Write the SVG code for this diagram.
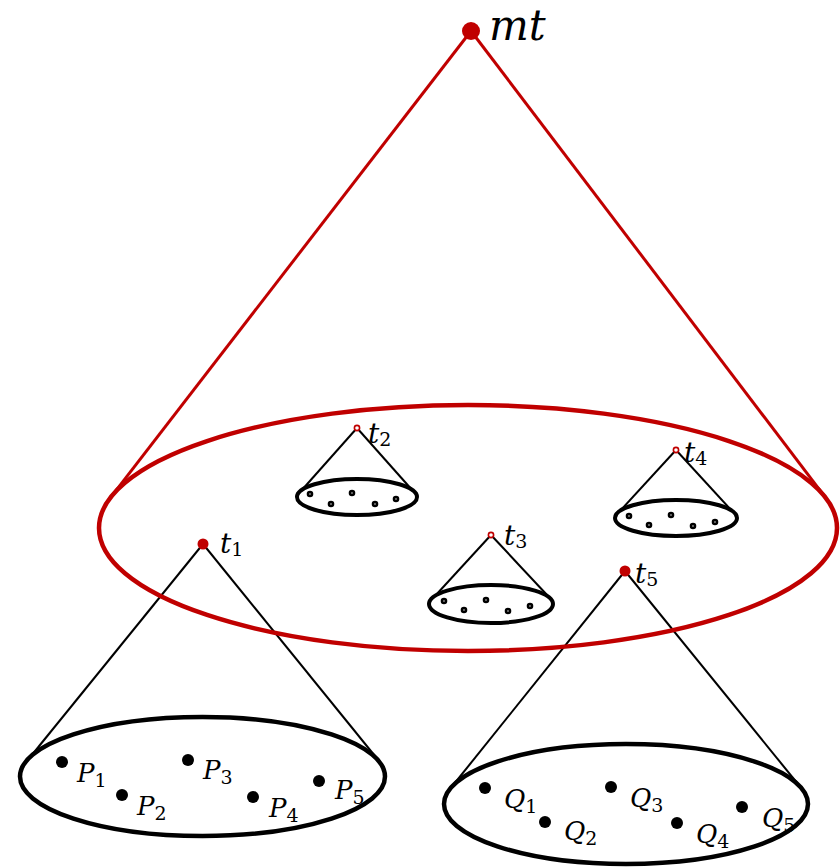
<svg xmlns="http://www.w3.org/2000/svg" width="840" height="867" viewBox="0 0 840 867">
<style>
.red{stroke:#c00000;fill:none}
.blk{stroke:#000;fill:none}
.lbl{font-family:"DejaVu Serif",serif;font-style:italic;fill:#000}
.sub{font-style:normal;font-size:19px}
.rd{fill:#c00000}
.pt{fill:#000}
.ring{fill:#fff;stroke:#000;stroke-width:2.6}
</style>
<rect width="840" height="867" fill="#fff"/>
<g id="connectors">
<line class="red" x1="471" y1="31" x2="110.5" y2="497.6" stroke-width="3"/>
<line class="red" x1="471" y1="31" x2="825.5" y2="497.6" stroke-width="3"/>
<line class="blk" x1="203" y1="544" x2="27" y2="761" stroke-width="2"/>
<line class="blk" x1="203" y1="544" x2="379" y2="761" stroke-width="2"/>
<line class="blk" x1="625" y1="571" x2="450" y2="789" stroke-width="2"/>
<line class="blk" x1="625" y1="571" x2="802" y2="789" stroke-width="2"/>
<line class="blk" x1="357" y1="428" x2="301" y2="491" stroke-width="2"/>
<line class="blk" x1="357" y1="428" x2="413" y2="491" stroke-width="2"/>
<line class="blk" x1="491" y1="535" x2="435" y2="596" stroke-width="2"/>
<line class="blk" x1="491" y1="535" x2="548" y2="596" stroke-width="2"/>
<line class="blk" x1="676" y1="450" x2="620" y2="511" stroke-width="2"/>
<line class="blk" x1="676" y1="450" x2="732" y2="511" stroke-width="2"/>
</g>
<g id="mt-region">
<ellipse class="red" cx="468" cy="528" rx="369" ry="123" stroke-width="4.5"/>
</g>
<g id="mt">
<circle class="rd" cx="471" cy="31" r="9"/>
<text class="lbl" x="489" y="40" font-size="42">mt</text>
</g>
<g id="t1">
<ellipse class="blk" cx="202.5" cy="776.5" rx="182.5" ry="59.5" stroke-width="4.5"/>
<circle class="rd" cx="203" cy="544" r="5.5"/>
<text class="lbl" x="220" y="553" font-size="28">t<tspan class="sub" dy="3">1</tspan></text>
<circle class="pt" cx="62" cy="762" r="6"/>
<circle class="pt" cx="122" cy="795" r="6"/>
<circle class="pt" cx="188" cy="760" r="6"/>
<circle class="pt" cx="253" cy="797" r="6"/>
<circle class="pt" cx="319" cy="781" r="6"/>
<text class="lbl" x="77" y="782" font-size="26">P<tspan class="sub" dy="5">1</tspan></text>
<text class="lbl" x="137" y="815" font-size="26">P<tspan class="sub" dy="5">2</tspan></text>
<text class="lbl" x="203" y="779" font-size="26">P<tspan class="sub" dy="5">3</tspan></text>
<text class="lbl" x="269" y="817" font-size="26">P<tspan class="sub" dy="5">4</tspan></text>
<text class="lbl" x="335" y="799" font-size="26">P<tspan class="sub" dy="5">5</tspan></text>
</g>
<g id="t5">
<ellipse class="blk" cx="626" cy="804" rx="182" ry="60" stroke-width="4.5"/>
<circle class="rd" cx="625" cy="571" r="5.5"/>
<text class="lbl" x="635" y="583" font-size="28">t<tspan class="sub" dy="3">5</tspan></text>
<circle class="pt" cx="485" cy="788" r="6"/>
<circle class="pt" cx="545" cy="822" r="6"/>
<circle class="pt" cx="611" cy="787" r="6"/>
<circle class="pt" cx="677" cy="823" r="6"/>
<circle class="pt" cx="742" cy="807" r="6"/>
<text class="lbl" x="504" y="808" font-size="26">Q<tspan class="sub" dy="5">1</tspan></text>
<text class="lbl" x="564" y="840" font-size="26">Q<tspan class="sub" dy="5">2</tspan></text>
<text class="lbl" x="630" y="807" font-size="26">Q<tspan class="sub" dy="5">3</tspan></text>
<text class="lbl" x="696" y="843" font-size="26">Q<tspan class="sub" dy="5">4</tspan></text>
<text class="lbl" x="762" y="827" font-size="26">Q<tspan class="sub" dy="5">5</tspan></text>
</g>
<g id="t2">
<ellipse class="blk" cx="357" cy="497" rx="60" ry="18" stroke-width="4"/>
<circle cx="357" cy="428" r="2.6" fill="#fff" stroke="#c00000" stroke-width="1.6"/>
<text class="lbl" x="368" y="443" font-size="28">t<tspan class="sub" dy="3">2</tspan></text>
<circle class="ring" cx="310" cy="494" r="2"/>
<circle class="ring" cx="331" cy="504" r="2"/>
<circle class="ring" cx="352" cy="493" r="2"/>
<circle class="ring" cx="375" cy="504" r="2"/>
<circle class="ring" cx="396" cy="499" r="2"/>
</g>
<g id="t3">
<ellipse class="blk" cx="491" cy="604" rx="62" ry="19" stroke-width="4"/>
<circle cx="491" cy="535" r="2.6" fill="#fff" stroke="#c00000" stroke-width="1.6"/>
<text class="lbl" x="504" y="545" font-size="28">t<tspan class="sub" dy="3">3</tspan></text>
<circle class="ring" cx="444" cy="601" r="2"/>
<circle class="ring" cx="464" cy="610" r="2"/>
<circle class="ring" cx="486" cy="600" r="2"/>
<circle class="ring" cx="508" cy="611" r="2"/>
<circle class="ring" cx="530" cy="606" r="2"/>
</g>
<g id="t4">
<ellipse class="blk" cx="676" cy="518" rx="61" ry="18" stroke-width="4"/>
<circle cx="676" cy="450" r="2.6" fill="#fff" stroke="#c00000" stroke-width="1.6"/>
<text class="lbl" x="684" y="462" font-size="28">t<tspan class="sub" dy="3">4</tspan></text>
<circle class="ring" cx="629" cy="516" r="2"/>
<circle class="ring" cx="649" cy="525" r="2"/>
<circle class="ring" cx="671" cy="515" r="2"/>
<circle class="ring" cx="693" cy="526" r="2"/>
<circle class="ring" cx="715" cy="522" r="2"/>
</g>
</svg>
